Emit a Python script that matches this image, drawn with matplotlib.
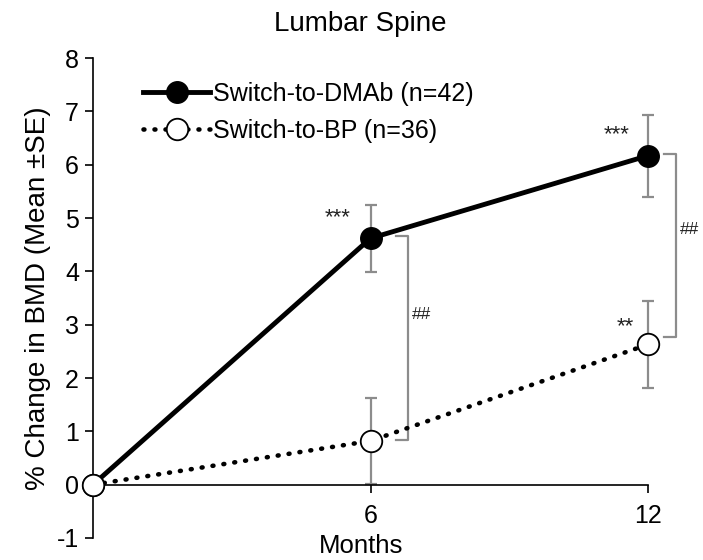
import matplotlib.pyplot as plt

plt.rcParams['font.family'] = ['Liberation Sans', 'DejaVu Sans']
plt.rcParams['axes.unicode_minus'] = False

# Mean % change in lumbar spine BMD with SE
months = [0, 6, 12]
dmab_mean = [0, 4.62, 6.17]
dmab_se = [0, 0.63, 0.77]
bp_mean = [0, 0.82, 2.63]
bp_se = [0, 0.80, 0.82]

dmab_label = 'Switch-to-DMAb (n=42)'
bp_label = 'Switch-to-BP (n=36)'

fig = plt.figure(figsize=(7.03, 5.6), dpi=100)
ax = fig.add_axes([0.1323, 0.0393, 0.7895, 0.857])

gray = '#8c8c8c'

# error bars (only the non-zero time points)
ax.errorbar(months[1:], dmab_mean[1:], yerr=dmab_se[1:], fmt='none',
            ecolor=gray, elinewidth=1.6, capsize=4.5, capthick=1.6, zorder=2, clip_on=False)
ax.errorbar(months[1:], bp_mean[1:], yerr=bp_se[1:], fmt='none',
            ecolor=gray, elinewidth=1.6, capsize=4.5, capthick=1.6, zorder=2, clip_on=False)

ax.plot(months, dmab_mean, color='black', lw=3.5, marker='o', ms=15.5,
        mfc='black', mec='black', label=dmab_label, zorder=3, clip_on=False)
ax.plot(months, bp_mean, color='black', lw=3.3, ls=(0, (0.2, 2.2)),
        dash_capstyle='round', marker='o', ms=15.5, mfc='white', mec='black',
        mew=1.3, label=bp_label, zorder=4, clip_on=False)

# between-group brackets
for xl, xr, ytop, ybot, ylab in [(6.55, 6.8, 4.67, 0.84, 3.2),
                                  (12.35, 12.6, 6.2, 2.77, 4.78)]:
    ax.plot([xl, xr, xr, xl], [ytop, ytop, ybot, ybot], color=gray, lw=1.6,
            clip_on=False, zorder=1)
    ax.text(xr + 0.1, ylab, '##', fontsize=12.5, color='#222222',
            ha='left', va='center', clip_on=False)

# within-group significance
ax.text(5.3, 5.0, '***', fontsize=16, ha='center', va='center', color='#222222')
ax.text(11.33, 6.56, '***', fontsize=16, ha='center', va='center', color='#222222')
ax.text(11.5, 2.96, '**', fontsize=16, ha='center', va='center', color='#222222')

ax.set_xlim(0, 12)
ax.set_ylim(-1, 8)
ax.set_xticks([6, 12])
ax.set_yticks(range(-1, 9))
ax.spines['top'].set_visible(False)
ax.spines['right'].set_visible(False)
ax.spines['bottom'].set_position(('data', 0))
ax.spines['left'].set_linewidth(1.2)
ax.spines['bottom'].set_linewidth(1.2)
ax.tick_params(axis='both', direction='out', length=6, width=1.2, labelsize=18)
ax.tick_params(axis='x', pad=8)
ax.tick_params(axis='y', pad=4)

ax.set_ylabel('% Change in BMD (Mean \u00b1SE)', fontsize=20, labelpad=4)
fig.text(0.5135, 0.003, 'Months', fontsize=18.5, ha='center', va='bottom')
fig.text(0.512, 0.934, 'Lumbar Spine', fontsize=20, ha='center', va='bottom')

ax.legend(loc='upper left', bbox_to_anchor=(0.09, 0.95), frameon=False,
          fontsize=18, handlelength=2.7, handletextpad=0.1, labelspacing=0.5,
          borderpad=0, borderaxespad=0)

fig.savefig('out.png', dpi=100)
